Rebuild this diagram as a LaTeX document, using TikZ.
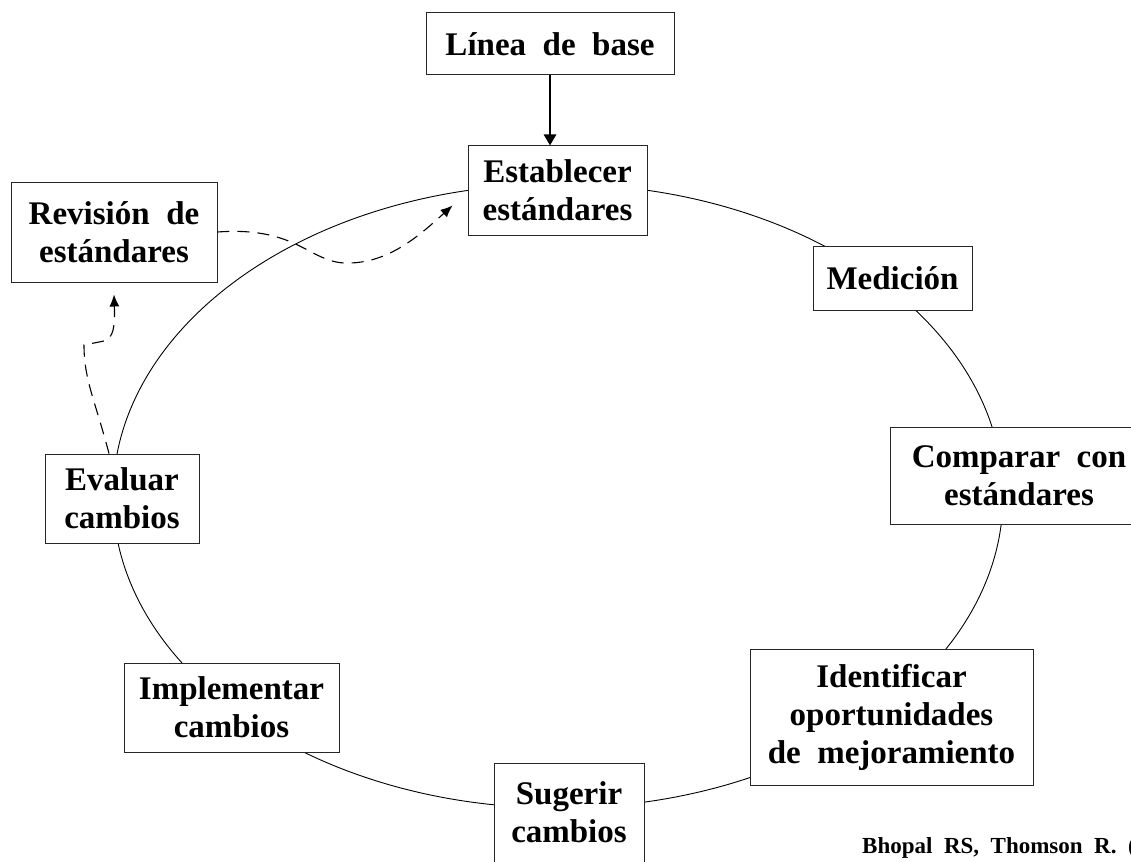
\documentclass[tikz,border=0pt]{standalone}
\usepackage{fontspec}
\setmainfont{Liberation Serif}[WordSpace=2]
\usepackage{tikz}
\usetikzlibrary{arrows.meta}

\begin{document}
\begin{tikzpicture}[x=1pt,y=-1pt,
stage/.style={draw=black!85,line width=1pt,fill=white,align=center,inner sep=0pt,
  font=\bfseries\fontsize{33}{38}\selectfont},
loopback/.style={dash pattern=on 12pt off 8pt,line width=1.1pt,-{Latex[length=12pt,width=10pt]}}]
%\draw[help lines] (0,0) grid[step=100] (1131,861);
\useasboundingbox (0,0) rectangle (1131,861);

\draw[line width=0.9pt] (558,496) ellipse [x radius=445,y radius=312];

\node (Base) [stage,minimum width=248pt,minimum height=62pt] at (550,44) {Línea de base};
\node (Est) [stage,minimum width=179pt,minimum height=89pt] at (557.5,190.5) {Establecer\\estándares};
\node (Rev) [stage,minimum width=206pt,minimum height=100pt] at (114,232) {Revisión de\\estándares};
\node (Med) [stage,minimum width=159pt,minimum height=64pt] at (892.5,278) {Medición};
\node (Comp) [stage,minimum width=258pt,minimum height=97pt] at (1019,475.5) {Comparar con\\estándares};
\node (Ident) [stage,minimum width=283pt,minimum height=136pt] at (891.5,717) {Identificar\\oportunidades\\de mejoramiento};
\node (Sug) [stage,minimum width=150pt,minimum height=99pt] at (569,812.5) {Sugerir\\cambios};
\node (Impl) [stage,minimum width=215pt,minimum height=89pt] at (231.5,707.5) {Implementar\\cambios};
\node (Eval) [stage,minimum width=154pt,minimum height=89pt] at (122,498.5) {Evaluar\\cambios};

\node (Cita) [anchor=base west,inner sep=0pt,font=\bfseries\fontsize{23}{27}\selectfont] at (862,853) {Bhopal RS, Thomson R. (};

\draw[line width=2.6pt,-{Triangle[length=11pt,width=12pt]}] (Base.south) -- (Base.south |- Est.north);

\coordinate (EstIn) at ([shift={(-15pt,-15pt)}]Est.west);
\draw[loopback] ([xshift=-13pt]Eval.north) .. controls (95,400) and (84,380) .. (84,345)
  -- (104,341) .. controls (114,338) and (115,325) .. ([yshift=-12pt]Rev.south);
\draw[loopback] (Rev.east) .. controls (300,226) and (310,265) .. (350,263)
  .. controls (390,262) and (420,235) .. (EstIn);
\end{tikzpicture}
\end{document}
